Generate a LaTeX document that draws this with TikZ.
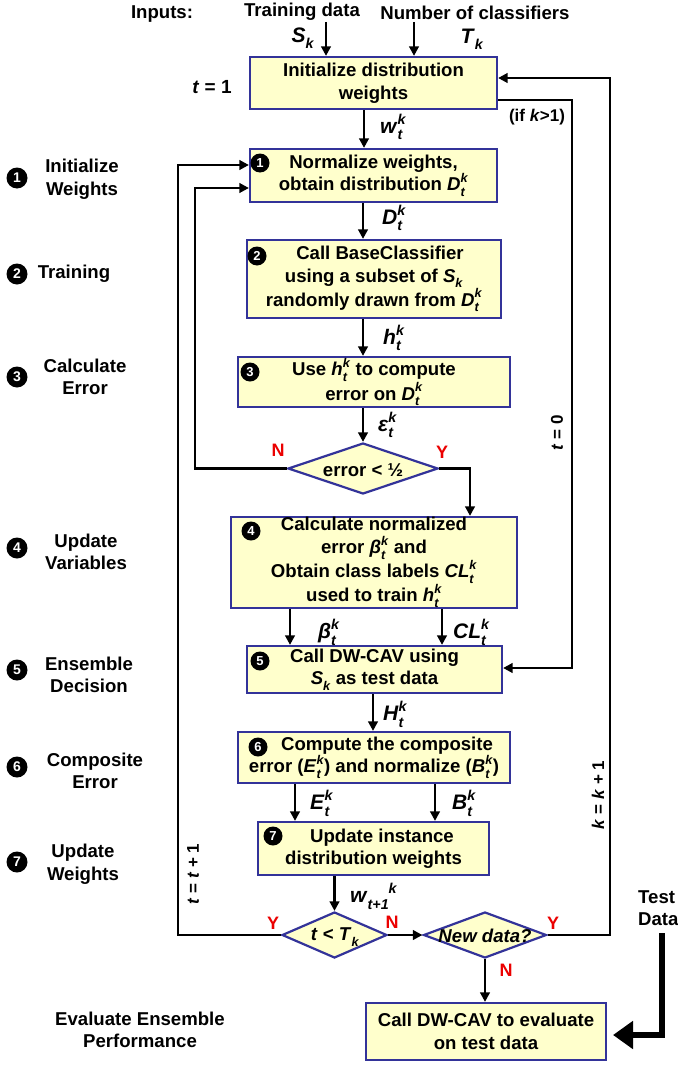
\documentclass[tikz,border=0pt]{standalone}
\usepackage{fontspec}
\setmainfont{Liberation Sans}
\usepackage{graphicx}
\usetikzlibrary{arrows.meta,shapes.geometric}
\definecolor{boxfill}{RGB}{255,255,204}
\definecolor{boxline}{RGB}{51,51,153}
\definecolor{ynred}{RGB}{235,0,0}
\newcommand\fs[2]{\fontsize{#1}{#2}\selectfont}
\newcommand\SSK[3]{\textit{#1}\rlap{\raisebox{-.3em}{\scalebox{.68}{\textit{#2}}}}\raisebox{.45em}{\scalebox{.68}{\textit{#3}}}}
\newcommand\SUB[2]{\textit{#1}\raisebox{-.3em}{\scalebox{.68}{\textit{#2}}}}
\begin{document}
\begin{tikzpicture}[x=1pt,y=-1pt,
  box/.style={draw=boxline, fill=boxfill, line width=2.2pt, inner sep=0pt, align=center, font=\bfseries\fs{18.6}{22.5}},
  dia/.style={diamond, draw=boxline, fill=boxfill, line width=2.2pt, inner sep=0pt},
  txt/.style={font=\bfseries\fs{18.6}{22.5}, align=center, inner sep=0pt},
  lab/.style={font=\bfseries\fs{21}{24}, anchor=west, inner sep=0pt},
  yn/.style={font=\bfseries\fs{18}{20}, text=ynred, inner sep=0pt},
  bul/.style={circle, fill=black, text=white, inner sep=0pt, minimum size=19pt, font=\bfseries\fs{13}{13}},
  lbul/.style={bul, minimum size=21pt, font=\bfseries\fs{14}{14}},
  rlab/.style={font=\bfseries\fs{17}{17}, inner sep=0pt, rotate=90},
  arr/.style={line width=2.8pt, -{Triangle[length=9.5pt,width=9.5pt]}},
  thick arr/.style={line width=6.5pt, -{Triangle[length=20pt,width=27pt]}}
]
\useasboundingbox (0,0) rectangle (677,1065);

% ---- inputs
\node[txt] (inp) at (162,14) {Inputs:};
\node[txt] (trd) at (302,12) {Training data};
\node[txt] (noc) at (475,13) {Number of classifiers};
\node[lab,anchor=center] (sk) at (303,38) {\SUB{S}{k}};
\node[lab,anchor=center] (tk) at (472,39) {\SUB{T}{k}};
\node[txt,font=\bfseries\fs{19}{22}] (t1) at (212,87) {\textit{t} = 1};

% ---- boxes
\node[box, minimum width=247pt, minimum height=52pt] (b0) at (373.5,83) {Initialize distribution\\weights};
\node[box, minimum width=247pt, minimum height=53pt] (b1) at (373.5,175.5) {Normalize weights,\\obtain distribution \SSK{D}{t}{k}};
\node[box, minimum width=254pt, minimum height=78pt] (b2) at (374,279) {\hspace*{12pt}Call BaseClassifier\\using a subset of \SUB{S}{k}\\randomly drawn from \SSK{D}{t}{k}};
\node[box, minimum width=272pt, minimum height=50pt] (b3) at (374,382) {Use \SSK{h}{t}{k} to compute\\error on \SSK{D}{t}{k}};
\node[dia, minimum width=150pt, minimum height=51pt] (d1) at (363,468.5) {};
\node[txt] (d1t) at (363,470) {error < ½};
\node[box, minimum width=286pt, minimum height=91pt] (b4) at (374,562.5) {Calculate normalized\\error \SSK{β}{t}{k} and\\Obtain class labels \SSK{CL}{t}{k}\\used to train \SSK{h}{t}{k}};
\node[box, minimum width=255pt, minimum height=47pt] (b5) at (374.5,669.5) {Call DW-CAV using\\\SUB{S}{k} as test data};
\node[box, minimum width=272pt, minimum height=51pt] (b6) at (374,757.5) {\hspace*{26pt}Compute the composite\\error (\SSK{E}{t}{k}) and normalize (\SSK{B}{t}{k})};
\node[box, minimum width=231pt, minimum height=53pt] (b7) at (373.5,848.5) {\hspace*{17pt}Update instance\\distribution weights};
\node[dia, minimum width=105pt, minimum height=46pt] (d2) at (334.5,935) {};
\node[txt] (d2t) at (335,937) {\textit{t} < \SUB{T}{k}};
\node[dia, minimum width=123pt, minimum height=46pt] (d3) at (485,935) {};
\node[txt] (d3t) at (485,936) {\textit{New data?}};
\node[box, minimum width=240pt, minimum height=57pt] (b8) at (486,1031.5) {Call DW-CAV to evaluate\\on test data};

% ---- bullets in boxes
\node[bul] (n1) at (260,163) {1};
\node[bul] (n2) at (257,256) {2};
\node[bul] (n3) at (250,372) {3};
\node[bul] (n4) at (251,531) {4};
\node[bul] (n5) at (260,661) {5};
\node[bul] (n6) at (258,747) {6};
\node[bul] (n7) at (273,836) {7};

% ---- left column
\node[lbul] (lb1) at (17,178) {1};
\node[txt] (ll1) at (82,179) {Initialize\\Weights};
\node[lbul] (lb2) at (17,274) {2};
\node[txt] (ll2) at (74,274) {Training};
\node[lbul] (lb3) at (17,377) {3};
\node[txt] (ll3) at (85,377) {Calculate\\Error};
\node[lbul] (lb4) at (17,548) {4};
\node[txt] (ll4) at (86,552) {Update\\Variables};
\node[lbul] (lb5) at (17,670) {5};
\node[txt] (ll5) at (89,675) {Ensemble\\Decision};
\node[lbul] (lb6) at (17,767) {6};
\node[txt] (ll6) at (95,771) {Composite\\Error};
\node[lbul] (lb7) at (17,862) {7};
\node[txt] (ll7) at (83,864) {Update\\Weights};
\node[txt] (lev) at (140,1030) {Evaluate Ensemble\\Performance};

% ---- connector labels
\node[lab] (wl) at (380,127) {\SSK{w}{t}{k}};
\node[lab] (dl) at (382,218) {\SSK{D}{t}{k}};
\node[lab] (hl) at (383,338) {\SSK{h}{t}{k}};
\node[lab] (el) at (378,425) {\SSK{ε}{t}{k}};
\node[lab] (bl) at (318,632) {\SSK{β}{t}{k}};
\node[lab] (cll) at (453,632) {\SSK{CL}{t}{k}};
\node[lab] (Hl) at (383,714) {\SSK{H}{t}{k}};
\node[lab] (El) at (310,803) {\SSK{E}{t}{k}};
\node[lab] (Bl) at (452,803) {\SSK{B}{t}{k}};
\node[lab] (w1l) at (350,896) {\textit{w}\raisebox{-.3em}{\scalebox{.68}{\textit{t+1}}}\raisebox{.45em}{\scalebox{.68}{\textit{k}}}};

\node[txt,font=\bfseries\fs{17}{17}] (ifk) at (537,117) {(if \textit{k}>1)};
\node[rlab] (t0) at (557,433) {\textit{t} = 0};
\node[rlab] (kk) at (598,795) {\textit{k} = \textit{k} + 1};
\node[rlab] (tt) at (193,874) {\textit{t} = \textit{t} + 1};
\node[txt, align=left, anchor=west] (td) at (638,908) {Test\\Data};

\node[yn] (yn1) at (278,450) {N};
\node[yn] (yn2) at (442,452) {Y};
\node[yn] (yn3) at (273,923) {Y};
\node[yn] (yn4) at (392,922) {N};
\node[yn] (yn5) at (553,923) {Y};
\node[yn] (yn6) at (506,970) {N};

% ---- connectors
\coordinate (in1) at (326,22);
\coordinate (in2) at (414,22);
\draw[arr] (in1) -- (in1 |- b0.north);
\draw[arr] (in2) -- (in2 |- b0.north);
\coordinate (c364) at (364,0);
\coordinate (c363) at (363,0);
\draw[arr] (c364 |- b0.south) -- (c364 |- b1.north);
\draw[arr] (c363 |- b1.south) -- (c363 |- b2.north);
\draw[arr] (c363 |- b2.south) -- (c363 |- b3.north);
\draw[arr] (c363 |- b3.south) -- (d1.north);
\coordinate (L2) at (195,188);
\draw[arr] (d1.west) -| (L2) -- (b1.west |- L2);
\coordinate (R1) at (470,0);
\draw[arr] (d1.east) -| (R1 |- b4.north);
\coordinate (c290) at (290,0);
\coordinate (c442) at (442,0);
\draw[arr] (c290 |- b4.south) -- (c290 |- b5.north);
\draw[arr] (c442 |- b4.south) -- (c442 |- b5.north);
\coordinate (c373) at (373,0);
\draw[arr] (c373 |- b5.south) -- (c373 |- b6.north);
\coordinate (c295) at (295,0);
\coordinate (c435) at (435,0);
\draw[arr] (c295 |- b6.south) -- (c295 |- b7.north);
\draw[arr] (c435 |- b6.south) -- (c435 |- b7.north);
\draw[arr] (d2.north |- b7.south) -- (d2.north);
\coordinate (L1) at (178,165);
\draw[arr] (d2.west) -| (L1) -- (b1.west |- L1);
\draw[arr] (d2.east) -- (d3.west);
\coordinate (R3) at (610,78);
\draw[arr] (d3.east) -| (R3) -- (b0.east |- R3);
\coordinate (R2t) at (572,100);
\coordinate (R2b) at (572,668);
\draw[arr] (b0.east |- R2t) -- (R2t) -- (R2b) -- (b5.east |- R2b);
\draw[arr] (d3.south) -- (d3.south |- b8.north);
\coordinate (tds) at (662,933);
\coordinate (tdc) at (662,1035);
\coordinate (tde) at (613,1035);
\draw[thick arr] (tds) -- (tdc) -- (tde);
\end{tikzpicture}
\end{document}
